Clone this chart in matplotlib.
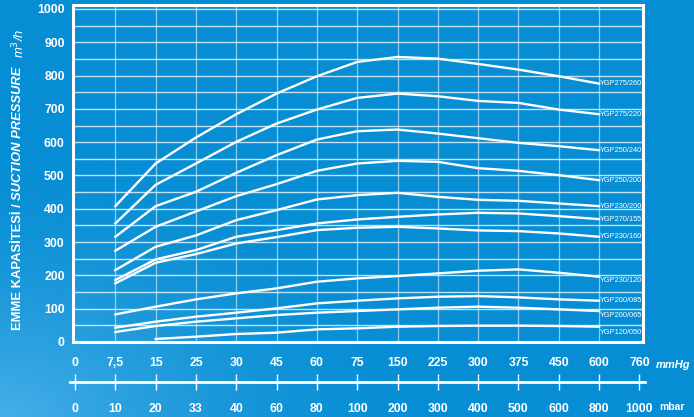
import numpy as np
import matplotlib
matplotlib.use("Agg")
import matplotlib.pyplot as plt

# ---------------- data ----------------
mmhg_labels = ['0', '7,5', '15', '25', '30', '45', '60', '75', '150', '225',
               '300', '375', '450', '600', '760']
mbar_labels = ['0', '10', '20', '33', '40', '60', '80', '100', '200', '300',
               '400', '500', '600', '800', '1000']
y_ticks = list(range(0, 1001, 100))

# values at 7,5 ... 600 mmHg (index 1..13)
ygp275_260 = [408, 536, 614, 684, 746, 798, 841, 856, 851, 835, 818, 798, 776]
ygp275_220 = [356, 472, 536, 601, 656, 698, 733, 746, 738, 724, 718, 698, 684]
ygp250_240 = [316, 408, 451, 508, 561, 608, 633, 638, 626, 612, 598, 588, 576]
ygp250_200 = [274, 346, 392, 438, 474, 514, 536, 544, 541, 522, 514, 501, 486]
ygp230_200 = [216, 286, 320, 366, 396, 428, 441, 448, 436, 427, 424, 416, 408]
ygp270_155 = [186, 248, 276, 316, 336, 356, 368, 376, 383, 388, 386, 378, 369]
ygp230_160 = [176, 238, 264, 296, 315, 336, 343, 346, 341, 335, 333, 326, 316]
ygp230_120 = [83, 106, 128, 146, 161, 181, 191, 198, 206, 214, 218, 208, 196]
ygp200_085 = [43, 61, 76, 88, 101, 116, 124, 131, 136, 138, 134, 128, 124]
ygp200_065 = [30, 48, 61, 71, 81, 88, 93, 98, 103, 106, 103, 98, 93]
ygp120_050 = [np.nan, 9, 16, 24, 28, 38, 41, 46, 48, 49, 49, 48, 46]

series_names = ['YGP275/260', 'YGP275/220', 'YGP250/240', 'YGP250/200',
                'YGP230/200', 'YGP270/155', 'YGP230/160', 'YGP230/120',
                'YGP200/085', 'YGP200/065', 'YGP120/050']
series_values = [ygp275_260, ygp275_220, ygp250_240, ygp250_200, ygp230_200,
                 ygp270_155, ygp230_160, ygp230_120, ygp200_085, ygp200_065,
                 ygp120_050]

# ---------------- figure ----------------
W, H = 694, 417
fig = plt.figure(figsize=(W / 100, H / 100), dpi=100)

# background gradient
bg = fig.add_axes([0, 0, 1, 1], zorder=-10)
yy, xx = np.mgrid[0:H, 0:W]
d = np.sqrt(((xx - 0) / 420.0) ** 2 + ((yy - H) / 260.0) ** 2)
t = np.clip(1 - d, 0, 1) ** 1.6
base = np.array([8, 142, 212]) / 255.0
light = np.array([70, 175, 232]) / 255.0
img = base[None, None, :] * (1 - t[..., None]) + light[None, None, :] * t[..., None]
bg.imshow(img, aspect='auto', extent=[0, 1, 0, 1], origin='upper')
bg.axis('off')

L, R, T, B = 73, 643, 5, 342
ax = fig.add_axes([L / W, (H - B) / H, (R - L) / W, (B - T) / H])
ax.set_facecolor('none')
n = len(mmhg_labels)
x_all = np.arange(n)
ax.set_xlim(-0.05, n - 1 + 0.09)
ax.set_ylim(0, 1012)

# grid
for v in range(50, 1001, 50):
    ax.axhline(v, color='white', alpha=0.75, lw=1.0, zorder=1)
for i in range(1, n - 1):
    ax.axvline(i, color='white', alpha=0.55, lw=0.9, zorder=1)

# curves
x_curve = x_all[1:n - 1]
label_offsets = [0, 0, 0, 0, 0, 0, 0, -3, 0, -3.5, -4.5]
for name, vals, off in zip(series_names, series_values, label_offsets):
    vals = np.array(vals, dtype=float)
    ax.plot(x_curve, vals, color='white', lw=1.7, zorder=3,
            solid_joinstyle='miter')
    ax.annotate(name, xy=(x_curve[-1], vals[-1]), xytext=(0.8, off),
                textcoords='offset points', ha='left', va='center',
                color='white', fontsize=5.3,
                family=['Liberation Sans', 'DejaVu Sans'],
                zorder=4)

for s in ax.spines.values():
    s.set_color('white')
    s.set_linewidth(2.2)

ax.set_yticks(y_ticks)
ax.set_yticklabels([str(v) for v in y_ticks])
ax.set_xticks(x_all)
ax.set_xticklabels(mmhg_labels)
ax.tick_params(axis='both', length=0, colors='white')
ax.tick_params(axis='y', pad=6)
ax.tick_params(axis='x', pad=11)
for lab in ax.get_yticklabels() + ax.get_xticklabels():
    lab.set_fontweight('bold')
    lab.set_fontsize(8.8)
    lab.set_family(['Liberation Sans', 'DejaVu Sans'])
    lab.set_color('white')

# mbar axis
ax2 = fig.add_axes([70 / W, (H - 382) / H, (645 - 70) / W, 0.0001])
ax2.set_facecolor('none')
ax2.set_xlim(-0.05 - 3 / 40.3, n - 1 + 0.09 + 2 / 40.3)
for k in ['top', 'left', 'right']:
    ax2.spines[k].set_visible(False)
ax2.spines['bottom'].set_color('white')
ax2.spines['bottom'].set_linewidth(2.0)
ax2.set_yticks([])
ax2.set_xticks(x_all)
ax2.set_xticklabels(mbar_labels)
ax2.tick_params(axis='x', direction='inout', length=12, width=1.0,
                colors='white', pad=9)
for lab in ax2.get_xticklabels():
    lab.set_fontweight('bold')
    lab.set_fontsize(8.8)
    lab.set_family(['Liberation Sans', 'DejaVu Sans'])

fig.text(656 / W, 1 - 365 / H, 'mmHg', color='white', fontsize=8, style='italic',
         fontweight='bold', ha='left', va='center',
         family=['Liberation Sans', 'DejaVu Sans'])
fig.text(659 / W, 1 - 407 / H, 'mbar', color='white', fontsize=7.5,
         fontweight='bold', ha='left', va='center',
         family=['Liberation Sans', 'DejaVu Sans'])

# y-axis title, in pieces
fam = ['Liberation Sans', 'DejaVu Sans']
renderer = fig.canvas.get_renderer()
xpos = 18 / W
ycur = 330
t1 = fig.text(xpos, 1 - ycur / H, 'EMME KAPASİTESİ / ', rotation=90, color='white',
              fontsize=9.4, fontweight='bold', ha='center', va='bottom', family=fam)
ext = t1.get_window_extent(renderer)
ycur = ycur - ext.height
t2 = fig.text(xpos, 1 - ycur / H, 'SUCTION PRESSURE', rotation=90, color='white',
              fontsize=9.4, fontweight='bold', style='italic', ha='center',
              va='bottom', family=fam)
ext = t2.get_window_extent(renderer)
ycur = ycur - ext.height - 8
fig.text(xpos + 0.002, 1 - ycur / H, 'm$^3$/h', rotation=90, color='white',
         fontsize=9.4, style='italic', ha='center', va='bottom', family=fam)

fig.savefig('out.png', dpi=100)
